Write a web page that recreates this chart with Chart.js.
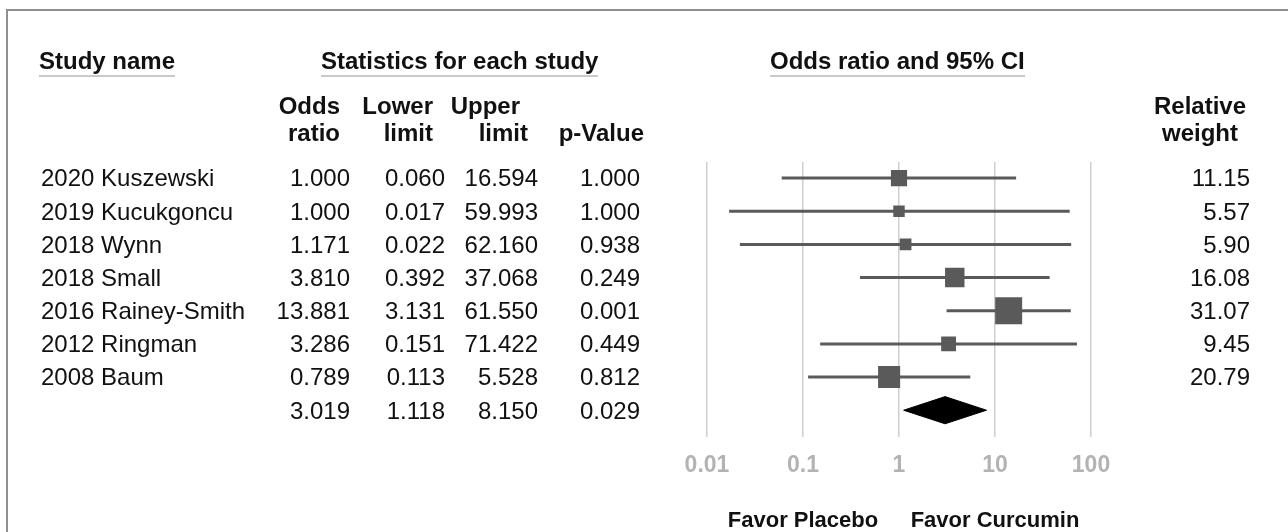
<!DOCTYPE html>
<html>
<head>
<meta charset="utf-8">
<script src="https://cdn.jsdelivr.net/npm/chart.js@4.4.0/dist/chart.umd.min.js"></script>
<style>
  html, body { margin: 0; padding: 0; background: #fff; }
  #wrap { position: relative; width: 1288px; height: 532px; overflow: hidden;
          font-family: "Liberation Sans", Arial, sans-serif; color: #111; }
  #frame { position: absolute; left: 6px; top: 9px; width: 1300px; height: 540px;
           border-top: 2px solid #8f8f8f; border-left: 2px solid #8f8f8f; }
  #chart { position: absolute; left: 0; top: 0; }
  .t { position: absolute; white-space: nowrap; font-size: 24px; line-height: 1; }
  .b { font-weight: bold; }
  .u { border-bottom: 2px solid #c9c9c9; padding-bottom: 2px; }
  .s { font-size: 22px; }
</style>
</head>
<body>
<div id="wrap">
  <div id="frame"></div>
  <canvas id="chart" width="1288" height="532"></canvas>
</div>
<script>
"use strict";

// ── Data ──────────────────────────────────────────────────────────
const STUDIES = ["2020 Kuszewski", "2019 Kucukgoncu", "2018 Wynn", "2018 Small",
                 "2016 Rainey-Smith", "2012 Ringman", "2008 Baum"];
const ODDS    = [1.000, 1.000, 1.171, 3.810, 13.881, 3.286, 0.789];
const LOWER   = [0.060, 0.017, 0.022, 0.392, 3.131, 0.151, 0.113];
const UPPER   = [16.594, 59.993, 62.160, 37.068, 61.550, 71.422, 5.528];
const PVAL    = [1.000, 1.000, 0.938, 0.249, 0.001, 0.449, 0.812];
const WEIGHT  = [11.15, 5.57, 5.90, 16.08, 31.07, 9.45, 20.79];
const SUMMARY = { odds: 3.019, lower: 1.118, upper: 8.150, p: 0.029 };
const TICKS       = [0.01, 0.1, 1, 10, 100];
const TICK_LABELS = ["0.01", "0.1", "1", "10", "100"];

const MARK  = "#5a5a5a";
const GRID  = "#cfcfcf";
const TICKC = "#b3b3b3";
const FONT  = "'Liberation Sans', Arial, sans-serif";

// ── Helpers ───────────────────────────────────────────────────────
const $ = id => document.getElementById(id);
const f3 = n => n.toFixed(3);

// place a text element; align = left | right | center, cy = visual centre
function put(text, x, cy, align, cls) {
  const el = document.createElement("div");
  el.className = "t " + (cls || "");
  el.textContent = text;
  el.style.top = (cy - 11.7) + "px";
  if (align === "right") el.style.right = (1288 - x) + "px";
  else el.style.left = x + "px";
  if (align === "center") el.style.transform = "translateX(-50%)";
  $("wrap").appendChild(el);
  return el;
}

// ── Chart ─────────────────────────────────────────────────────────
const SUM_ROW = STUDIES.length;
const DIAMOND_H = 0.41;

const whiskers = STUDIES.map((s, i) => ({
  data: [{ x: LOWER[i], y: i }, { x: UPPER[i], y: i }],
  showLine: true, borderColor: MARK, borderWidth: 3, pointRadius: 0
}));

const chart = new Chart($("chart"), {
  type: "scatter",
  data: {
    datasets: [
      ...whiskers,
      {
        data: ODDS.map((v, i) => ({ x: v, y: i })),
        pointStyle: "rect",
        pointRadius: WEIGHT.map(w => 4.84 * Math.sqrt(w) / Math.SQRT2),
        backgroundColor: MARK, borderWidth: 0
      },
      {
        data: [
          { x: SUMMARY.lower, y: SUM_ROW },
          { x: SUMMARY.odds,  y: SUM_ROW - DIAMOND_H },
          { x: SUMMARY.upper, y: SUM_ROW },
          { x: SUMMARY.odds,  y: SUM_ROW + DIAMOND_H },
          { x: SUMMARY.lower, y: SUM_ROW }
        ],
        showLine: true, fill: "shape", tension: 0,
        borderColor: "#000", backgroundColor: "#000", borderWidth: 1, pointRadius: 0
      }
    ]
  },
  options: {
    responsive: false, animation: false,
    layout: { padding: { left: 707, right: 197, top: 162, bottom: 39 } },
    plugins: { legend: { display: false }, tooltip: { enabled: false } },
    scales: {
      x: {
        type: "logarithmic", min: 0.01, max: 100,
        afterBuildTicks: axis => { axis.ticks = TICKS.map(v => ({ value: v })); },
        ticks: {
          callback: (v, i) => TICK_LABELS[i],
          color: TICKC, padding: 14, maxRotation: 0, autoSkip: false,
          font: { family: FONT, size: 23, weight: "bold" }
        },
        grid: { color: GRID, lineWidth: 1.5, drawTicks: false },
        border: { display: false }
      },
      y: { type: "linear", min: -0.485, max: 7.82, reverse: true, display: false }
    }
  }
});

// ── Table text ────────────────────────────────────────────────────
const ys = chart.scales.y, xs = chart.scales.x;

put("Study name", 39, 61, "left", "b u");
put("Statistics for each study", 321, 61, "left", "b u");
put("Odds ratio and 95% CI", 770, 61, "left", "b u");

put("Odds", 340, 106, "right", "b");   put("ratio", 340, 133, "right", "b");
put("Lower", 433, 106, "right", "b");  put("limit", 433, 133, "right", "b");
put("Upper", 520, 106, "right", "b");  put("limit", 528, 133, "right", "b");
put("p-Value", 644, 133, "right", "b");
put("Relative", 1200, 106, "center", "b"); put("weight", 1200, 133, "center", "b");

STUDIES.forEach((s, i) => {
  const cy = ys.getPixelForValue(i);
  put(s, 41, cy, "left");
  put(f3(ODDS[i]), 350, cy, "right");
  put(f3(LOWER[i]), 445, cy, "right");
  put(f3(UPPER[i]), 538, cy, "right");
  put(f3(PVAL[i]), 640, cy, "right");
  put(WEIGHT[i].toFixed(2), 1250, cy, "right");
});
const sy = ys.getPixelForValue(SUM_ROW);
put(f3(SUMMARY.odds), 350, sy, "right");
put(f3(SUMMARY.lower), 445, sy, "right");
put(f3(SUMMARY.upper), 538, sy, "right");
put(f3(SUMMARY.p), 640, sy, "right");

put("Favor Placebo", xs.getPixelForValue(0.1), 521, "center", "b s");
put("Favor Curcumin", xs.getPixelForValue(10), 521, "center", "b s");
</script>
</body>
</html>
